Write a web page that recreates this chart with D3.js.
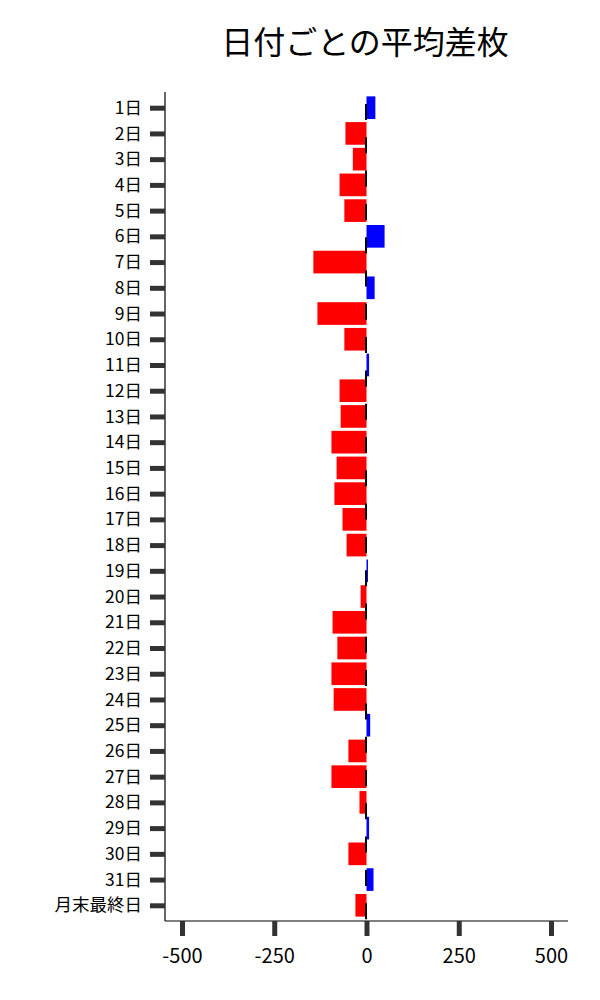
<!DOCTYPE html>
<html><head><meta charset="utf-8">
<script src="https://cdn.jsdelivr.net/npm/d3@7"></script>
<style>
body{margin:0;background:#fff;}
text{font-family:"Noto Sans CJK JP","Noto Sans",sans-serif;}
</style></head>
<body><svg id="c" width="600" height="1000"></svg>
<script>
const title = "日付ごとの平均差枚";
const categories = ["1日","2日","3日","4日","5日","6日","7日","8日","9日","10日","11日","12日","13日","14日","15日","16日","17日","18日","19日","20日","21日","22日","23日","24日","25日","26日","27日","28日","29日","30日","31日","月末最終日"];
const values = [24,-57,-37,-73,-60,49,-144,22,-133,-60,7,-73,-70,-95,-81,-87,-65,-54,4,-16,-92,-79,-95,-89,10,-49,-95,-19,7,-49,19,-30];
const xTicks = [-500,-250,0,250,500];

const svg = d3.select("#c");
const L=165, R=568, T=92, B=921;
const x = d3.scaleLinear().domain([-546,546]).range([L,R]);
const y = d3.scalePoint().domain(categories).range([T,B]).padding(0.61);
const bh = y.step()*0.88;

svg.append("text").attr("x",365).attr("y",54).attr("text-anchor","middle")
  .attr("font-size",32).attr("fill","#000").text(title);

svg.append("g").selectAll("rect").data(categories).join("rect")
  .attr("x",(d,i)=>x(Math.min(0,values[i])))
  .attr("width",(d,i)=>Math.abs(x(values[i])-x(0)))
  .attr("y",d=>y(d)-bh/2).attr("height",bh)
  .attr("fill",(d,i)=>values[i]<0?"#ff0000":"#0000ff");

// dashed zero line
svg.append("line").attr("x1",x(0)-0.5).attr("x2",x(0)-0.5).attr("y1",T).attr("y2",B)
  .attr("stroke","#000").attr("stroke-width",2)
  .attr("stroke-dasharray","16,17.3").attr("stroke-dashoffset",-(104-T)+33.3);

// y axis
const ya = svg.append("g").attr("transform",`translate(${L},0)`)
  .call(d3.axisLeft(y).tickSize(15).tickPadding(8));
ya.select(".domain").attr("stroke","#000").attr("stroke-width",1.2).attr("d",`M0,${T}V${B}`);
ya.selectAll(".tick line").attr("stroke","#333").attr("stroke-width",5);
ya.selectAll(".tick text").attr("font-size",17.5).attr("fill","#000");

// x axis
const xa = svg.append("g").attr("transform",`translate(0,${B})`)
  .call(d3.axisBottom(x).tickValues(xTicks).tickFormat(d=>String(d)).tickSize(15).tickPadding(13));
xa.select(".domain").attr("stroke","#000").attr("stroke-width",1.2).attr("d",`M${L},0H${R}`);
xa.selectAll(".tick line").attr("stroke","#333").attr("stroke-width",5);
xa.selectAll(".tick text").attr("font-size",20).attr("fill","#000");
</script></body></html>
